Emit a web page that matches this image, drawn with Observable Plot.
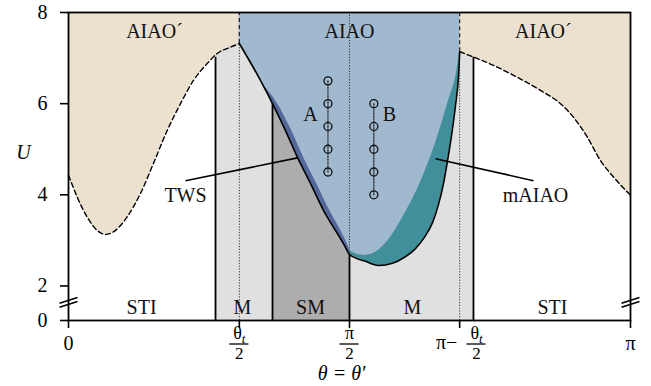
<!DOCTYPE html>
<html><head><meta charset="utf-8">
<script src="https://cdn.jsdelivr.net/npm/d3@7"></script>
<script src="https://cdn.jsdelivr.net/npm/@observablehq/plot@0.6"></script>
<style>
body{margin:0;background:#fff;}
#chart [aria-label*="axis"] line, #chart [aria-label*="axis"] path {stroke-width:1.6px}
</style></head><body><div id="chart"></div>
<script>
// x values are in units of pi (theta / pi); y values are U
const tHalf = 0.304;                        // theta_t / 2
const xTickVals = [0, tHalf, 0.5, 1 - tHalf, 1];
const yTicks = [0, 2, 4, 6, 8];

// AIAO' boundary (dashed), left and right
const leftDashX = [0, 0.0155, 0.0333, 0.051, 0.0658, 0.0836, 0.104, 0.1281, 0.1512, 0.1756, 0.1993, 0.2224, 0.2468, 0.2646, 0.2883, 0.304];
const leftDashU = [4.43, 3.95, 3.51, 3.22, 3.13, 3.22, 3.51, 4.03, 4.69, 5.41, 6.00, 6.51, 6.88, 7.10, 7.24, 7.32];
const rightDashX = [0.696, 0.7212, 0.7562, 0.7984, 0.8399, 0.8754, 0.8986, 0.923, 0.9466, 0.9698, 1];
const rightDashU = [7.14, 7.02, 6.84, 6.58, 6.29, 6.00, 5.70, 5.27, 4.75, 4.39, 3.99];

// solid lower boundary of the AIAO / TWS / mAIAO region
const leftEdgeX = [0.304, 0.3416, 0.363, 0.3861, 0.4075, 0.4306, 0.4537, 0.4769, 0.4911, 0.5];
const leftEdgeU = [7.32, 6.51, 6.00, 5.41, 4.82, 4.25, 3.66, 3.18, 2.89, 2.69];
const rightEdgeX = [0.5, 0.5285, 0.5516, 0.5765, 0.5979, 0.6174, 0.6335, 0.6477, 0.6584, 0.6673, 0.6744, 0.6815, 0.6886, 0.694, 0.696];
const rightEdgeU = [2.69, 2.54, 2.45, 2.50, 2.63, 2.82, 3.07, 3.39, 3.79, 4.25, 4.75, 5.30, 5.96, 6.62, 7.14];

// inner edges of the AIAO (light blue) region
const twsInnerX = [0.304, 0.3416, 0.372, 0.397, 0.4184, 0.4415, 0.4646, 0.486, 0.4974, 0.5018];
const twsInnerU = [7.32, 6.51, 6.00, 5.41, 4.82, 4.25, 3.66, 3.18, 2.89, 2.76];
const mInnerX = [0.5018, 0.5249, 0.5463, 0.573, 0.5996, 0.6263, 0.653, 0.6762, 0.6904, 0.696];
const mInnerU = [2.76, 2.67, 2.74, 3.07, 3.61, 4.27, 5.13, 6.07, 6.68, 7.14];

// phase zones along theta (below the boundaries)
const zoneName = ["M", "SM", "M"];
const zoneX1 = [0.2616, 0.363, 0.5];
const zoneX2 = [0.363, 0.5, 0.7206];
// solid vertical separators and where they stop
const sepX = [0.2616, 0.363, 0.5, 0.7206];
const sepTopU = [7.02, 6.00, 2.69, 7.02];

// parameter paths A and B
const pathAX = 0.4617, pathAU = [6.5, 6.0, 5.5, 5.0, 4.5];
const pathBX = 0.5433, pathBU = [6.0, 5.5, 5.0, 4.5, 4.0];

// labels
const labelText = ["AIAO´", "AIAO", "AIAO´", "STI", "M", "SM", "M", "STI", "A", "B", "TWS", "mAIAO"];
const labelX = [0.153, 0.5, 0.845, 0.13, 0.3096, 0.4306, 0.612, 0.861, 0.4306, 0.5712, 0.2082, 0.831];
const labelU = [7.58, 7.58, 7.58, 0.75, 0.75, 0.75, 0.75, 0.75, 5.77, 5.77, 3.99, 3.99];
const pointerX1 = [0.2082, 0.653], pointerU1 = [4.31, 4.79];
const pointerX2 = [0.4075, 0.8274], pointerU2 = [4.81, 4.31];

const breakX = [0, 1], breakU = 1.05;

// ---------- broken U axis: 0..2 is compressed ----------
const squeeze = 0.379;
const yv = u => u >= 2 ? u : 2 - (2 - u) * squeeze;
const yInv = v => v >= 2 ? v : 2 - (2 - v) / squeeze;

// ---------- build tables ----------
const zip = (xs, us) => xs.map((x, i) => ({x, u: us[i]}));
const leftDash = zip(leftDashX, leftDashU);
const rightDash = zip(rightDashX, rightDashU);
const leftEdge = zip(leftEdgeX, leftEdgeU);
const rightEdge = zip(rightEdgeX, rightEdgeU);
const edge = leftEdge.concat(rightEdge.slice(1));
const inner = zip(twsInnerX, twsInnerU).concat(zip(mInnerX, mInnerU).slice(1));
const zones = zoneName.map((n, i) => ({n, x1: zoneX1[i], x2: zoneX2[i]}));
const seps = zip(sepX, sepTopU);
const pathA = pathAU.map(u => ({x: pathAX, u, s: "A"}));
const pathB = pathBU.map(u => ({x: pathBX, u, s: "B"}));
const labels = labelText.map((t, i) => ({t, x: labelX[i], u: labelU[i]}));
const pointers = pointerX1.map((x, i) => ({x1: x, u1: pointerU1[i], x2: pointerX2[i], u2: pointerU2[i]}));
const breaks = breakX.map(x => ({x}));

const C = {beige: "#ece0cf", blue: "#a1b9cf", teal: "#428f9c", tws: "#56689b", M: "#e0e0e0", SM: "#adadad"};
const curve = "monotone-x";
const Y = d => yv(d.u);
const yTop = yv(8), yBot = yv(0);
const fracs = [
  {x: tHalf, num: "θt", pre: "", sh: 0},
  {x: 0.5, num: "π", pre: "", sh: 0},
  {x: 1 - tHalf, num: "θt", pre: "π−", sh: 0.030}
];
const plain = [{x: 0, t: "0"}, {x: 1, t: "π"}];
const dotted = {stroke: "#333", strokeWidth: 1, strokeDasharray: "1.2,1.6"};
const dashed = {stroke: "#222", strokeWidth: 1.2, strokeDasharray: "4,3"};

const plot = Plot.plot({
  width: 651, height: 386,
  marginLeft: 68, marginRight: 21, marginTop: 12, marginBottom: 66,
  style: {fontFamily: "'Liberation Serif', 'DejaVu Serif', serif", fontSize: "20px", color: "black", background: "white", overflow: "visible"},
  x: {domain: [0, 1], ticks: xTickVals, tickFormat: () => "", tickSize: 8, label: null},
  y: {domain: [yBot, yTop], ticks: yTicks.map(yv), tickFormat: v => String(Math.round(yInv(v))), tickSize: 8, tickPadding: 13, label: null},
  marks: [
    Plot.rect(zones, {x1: "x1", x2: "x2", y1: yBot, y2: yTop, fill: d => C[d.n]}),
    Plot.areaY(leftDash, {x: "x", y1: Y, y2: yTop, fill: C.beige, curve}),
    Plot.areaY(rightDash, {x: "x", y1: Y, y2: yTop, fill: C.beige, curve}),
    Plot.areaY(leftEdge, {x: "x", y1: Y, y2: yTop, fill: C.tws, curve}),
    Plot.areaY(rightEdge, {x: "x", y1: Y, y2: yTop, fill: C.teal, curve}),
    Plot.areaY(inner, {x: "x", y1: Y, y2: yTop, fill: C.blue, curve}),
    // dotted reference lines
    Plot.ruleX([tHalf], {y1: yBot, y2: yv(leftDashU[leftDashU.length - 1]), ...dotted}),
    Plot.ruleX([1 - tHalf], {y1: yBot, y2: yv(rightDashU[0]), ...dotted}),
    Plot.ruleX([0.5], {y1: yv(leftEdgeU[leftEdgeU.length - 1]), y2: yTop, ...dotted}),
    // dashed AIAO / AIAO' separators
    Plot.ruleX([tHalf], {y1: yv(leftDashU[leftDashU.length - 1]), y2: yTop, ...dashed}),
    Plot.ruleX([1 - tHalf], {y1: yv(rightDashU[0]), y2: yTop, ...dashed}),
    // solid separators
    Plot.ruleX(seps, {x: "x", y1: yBot, y2: Y, stroke: "black", strokeWidth: 1.8}),
    // boundaries
    Plot.line(edge, {x: "x", y: Y, stroke: "black", strokeWidth: 1.6, curve}),
    Plot.line(leftDash, {x: "x", y: Y, stroke: "black", strokeWidth: 1.4, strokeDasharray: "5,3", curve}),
    Plot.line(rightDash, {x: "x", y: Y, stroke: "black", strokeWidth: 1.4, strokeDasharray: "5,3", curve}),
    // paths A and B
    Plot.line(pathA.concat(pathB), {x: "x", y: Y, z: "s", stroke: "#222", strokeWidth: 1.2, strokeDasharray: "1.5,1.5"}),
    Plot.dot(pathA.concat(pathB), {x: "x", y: Y, r: 4, stroke: "#111", strokeWidth: 1.3, fill: "none"}),
    // pointers and labels
    Plot.link(pointers, {x1: "x1", y1: d => yv(d.u1), x2: "x2", y2: d => yv(d.u2), stroke: "black", strokeWidth: 1.6}),
    Plot.text(labels, {x: "x", y: Y, text: "t", fontSize: 20, fill: "#111"}),
    Plot.frame({stroke: "black", strokeWidth: 1.8}),
    // axis breaks
    Plot.link(breaks, {x1: d => d.x - 0.016, x2: d => d.x + 0.016, y1: yv(breakU - 0.17), y2: yv(breakU + 0.17), dy: 2, stroke: "black", strokeWidth: 1.6}),
    Plot.link(breaks, {x1: d => d.x - 0.016, x2: d => d.x + 0.016, y1: yv(breakU - 0.17), y2: yv(breakU + 0.17), dy: -2, stroke: "black", strokeWidth: 1.6}),
    // x tick labels
    Plot.text(plain, {x: "x", y: yBot, text: "t", dy: 23, fontSize: 20}),
    Plot.text(fracs.filter(d => d.pre), {x: "x", y: yBot, text: "pre", dx: -13, dy: 22, fontSize: 20}),
    Plot.text(fracs, {x: d => d.x + d.sh, y: yBot, text: "num", dy: 13, fontSize: 18}),
    Plot.ruleY(fracs, {y: yBot, x1: d => d.x + d.sh - 0.017, x2: d => d.x + d.sh + 0.017, dy: 23.5, stroke: "black", strokeWidth: 1.3}),
    Plot.text(fracs, {x: d => d.x + d.sh, y: yBot, text: () => "2", dy: 33, fontSize: 17}),
    // axis titles
    Plot.text(["θ = θ′"], {x: 0.486, y: yBot, text: d => d, dy: 53.5, fontSize: 20, fontStyle: "italic"}),
    Plot.text(["U"], {frameAnchor: "left", y: yv(4.92), text: d => d, dx: -45, textAnchor: "middle", fontSize: 20, fontStyle: "italic"})
  ]
});
// render the subscript t of theta_t as a real tspan
d3.select(plot).selectAll("text").filter(function () { return this.textContent === "θt"; })
  .each(function () {
    const t = d3.select(this);
    t.text("θ");
    t.append("tspan").attr("font-size", 13).attr("font-style", "italic").attr("dy", "0.3em").text("t");
  });
document.getElementById("chart").appendChild(plot);
</script></body></html>
